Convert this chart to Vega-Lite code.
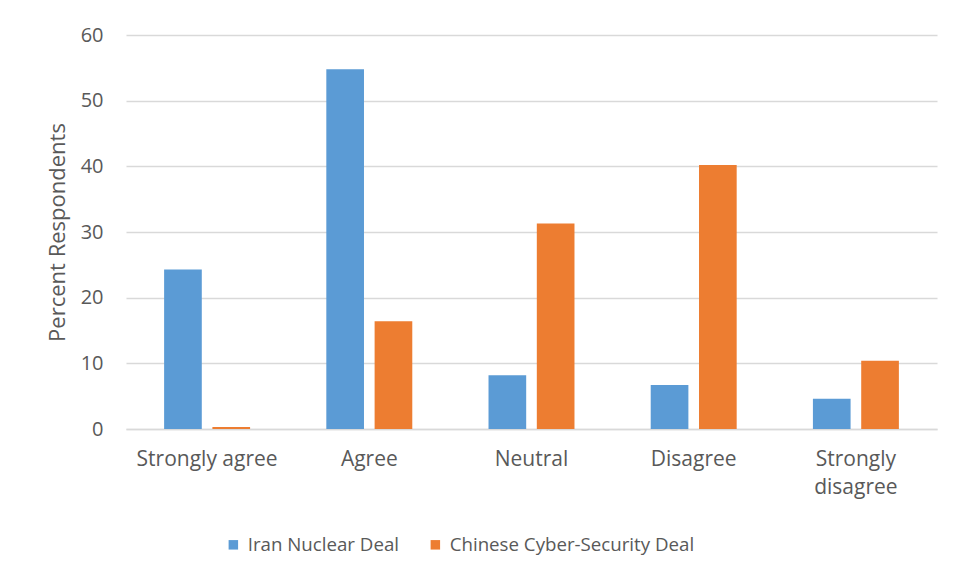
{
  "$schema": "https://vega.github.io/schema/vega-lite/v6.json",
  "width": 811,
  "height": 394,
  "autosize": {"type": "none"},
  "padding": {"left": 126, "top": 35, "right": 19, "bottom": 148},
  "background": "white",
  "config": {
    "font": "Open Sans",
    "view": {"stroke": null},
    "axis": {"labelColor": "#595959", "titleColor": "#595959", "labelFont": "Open Sans", "titleFont": "Open Sans"},
    "legend": {"labelFont": "Open Sans"}
  },
  "data": {
    "values": [
      {"response": "Strongly agree", "deal": "Iran Nuclear Deal", "pct": 24.3},
      {"response": "Strongly agree", "deal": "Chinese Cyber-Security Deal", "pct": 0.3},
      {"response": "Agree", "deal": "Iran Nuclear Deal", "pct": 54.8},
      {"response": "Agree", "deal": "Chinese Cyber-Security Deal", "pct": 16.4},
      {"response": "Neutral", "deal": "Iran Nuclear Deal", "pct": 8.2},
      {"response": "Neutral", "deal": "Chinese Cyber-Security Deal", "pct": 31.3},
      {"response": "Disagree", "deal": "Iran Nuclear Deal", "pct": 6.7},
      {"response": "Disagree", "deal": "Chinese Cyber-Security Deal", "pct": 40.2},
      {"response": "Strongly disagree", "deal": "Iran Nuclear Deal", "pct": 4.6},
      {"response": "Strongly disagree", "deal": "Chinese Cyber-Security Deal", "pct": 10.4}
    ]
  },
  "mark": {"type": "bar"},
  "encoding": {
    "x": {
      "field": "response",
      "type": "nominal",
      "sort": ["Strongly agree", "Agree", "Neutral", "Disagree", "Strongly disagree"],
      "scale": {"paddingInner": 0.47, "paddingOuter": 0.235},
      "axis": {
        "title": null,
        "labelAngle": 0,
        "labelFontSize": 21,
        "labelPadding": 19,
        "labelLineHeight": 28,
        "ticks": false,
        "domain": true,
        "domainColor": "#d9d9d9",
        "domainWidth": 1.5,
        "labelExpr": "datum.label == 'Strongly disagree' ? ['Strongly', 'disagree'] : datum.label"
      }
    },
    "xOffset": {
      "field": "deal",
      "type": "nominal",
      "sort": ["Iran Nuclear Deal", "Chinese Cyber-Security Deal"],
      "scale": {"paddingInner": 0.22}
    },
    "y": {
      "field": "pct",
      "type": "quantitative",
      "scale": {"domain": [0, 60]},
      "axis": {
        "title": "Percent Respondents",
        "titleFontSize": 22,
        "titleFontWeight": "normal",
        "titlePadding": 11,
        "labelFontSize": 20,
        "labelPadding": 23,
        "values": [0, 10, 20, 30, 40, 50, 60],
        "ticks": false,
        "domain": false,
        "gridColor": "#d9d9d9",
        "gridWidth": 1.5
      }
    },
    "color": {
      "field": "deal",
      "type": "nominal",
      "sort": ["Iran Nuclear Deal", "Chinese Cyber-Security Deal"],
      "scale": {"range": ["#5B9BD5", "#ED7D31"]},
      "legend": {
        "title": null,
        "orient": "none",
        "direction": "horizontal",
        "legendX": 98,
        "legendY": 500,
        "symbolType": "square",
        "symbolSize": 90,
        "symbolStrokeWidth": 0,
        "labelFontSize": 18.7,
        "labelColor": "#595959",
        "labelOffset": 5,
        "labelLimit": 0,
        "columnPadding": 27
      }
    }
  }
}
